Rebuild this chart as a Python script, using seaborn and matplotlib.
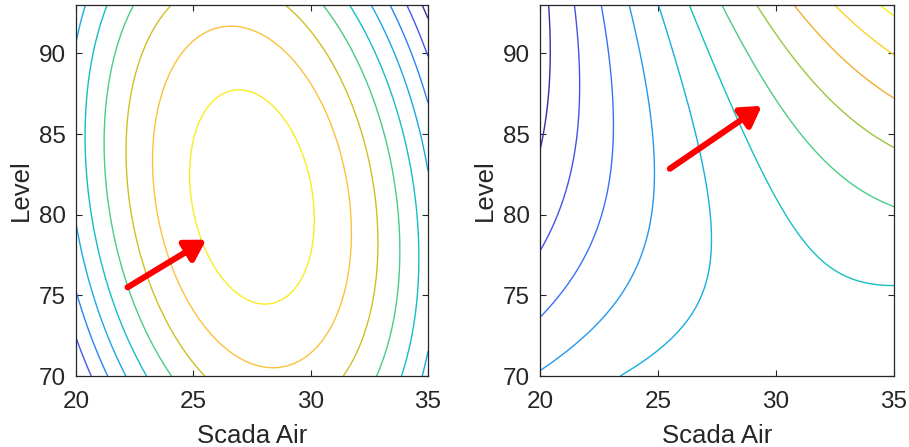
import numpy as np
import matplotlib
matplotlib.use("Agg")
import matplotlib.pyplot as plt
from matplotlib.colors import LinearSegmentedColormap, Normalize
import seaborn as sns

# ---------------- data ----------------
x_range = [20, 35]
y_range = [70, 93]
x_ticks = [20, 25, 30, 35]
y_ticks = [70, 75, 80, 85, 90]
x_label = "Scada Air"
y_label = "Level"

# left panel: quadratic response surface with a maximum (centred form)
left_center = [27.5, 81.1]            # (Scada Air, Level) of the optimum
left_peak = 9.65
left_quad = [0.0962, 0.0154, 0.0163]  # coefficients for dx^2, dy^2, dx*dy
left_levels = [1, 2, 3, 4, 5, 6, 7, 8, 9]

# right panel: quadratic response surface with a saddle
# [const, x, y, x^2, y^2, x*y]
right_coef = [92.37, -0.972, -2.0, -0.0156, 0.008, 0.0273]
right_levels = [1, 2, 3, 4, 5, 6, 7, 8, 9, 10, 11]

# red arrows (tail -> tip) in data coordinates
left_arrow_tail = [22.2, 75.5]
left_arrow_tip = [25.55, 78.45]
right_arrow_tail = [25.5, 82.85]
right_arrow_tip = [29.4, 86.75]

# parula-like colormap anchors (style): position, colour
cmap_pos = [0.00, 0.04, 0.13, 0.16, 0.22, 0.27, 0.32, 0.38, 0.41, 0.50,
            0.60, 0.69, 0.71, 0.78, 0.82, 0.88, 0.93, 1.00]
cmap_rgb = [
    (0.242, 0.150, 0.660), (0.240, 0.170, 0.640), (0.280, 0.320, 0.900),
    (0.270, 0.360, 0.940), (0.220, 0.440, 0.960), (0.160, 0.520, 0.950),
    (0.140, 0.600, 0.940), (0.100, 0.660, 0.900), (0.090, 0.690, 0.870),
    (0.080, 0.750, 0.750), (0.300, 0.800, 0.530), (0.600, 0.780, 0.250),
    (0.820, 0.750, 0.140), (0.950, 0.670, 0.190), (0.980, 0.760, 0.240),
    (0.980, 0.820, 0.190), (0.970, 0.930, 0.120), (0.977, 0.984, 0.081),
]
parula = LinearSegmentedColormap.from_list("parula", list(zip(cmap_pos, cmap_rgb)))

# ---------------- style ----------------
sns.set_theme(style="white")
plt.rcParams["font.family"] = ["Liberation Sans", "DejaVu Sans"]
ink = "#262626"
plt.rcParams.update({
    "xtick.direction": "in", "ytick.direction": "in",
    "xtick.top": True, "ytick.right": True,
    "xtick.bottom": True, "ytick.left": True,
    "xtick.major.size": 4.5, "ytick.major.size": 4.5,
    "xtick.major.width": 0.8, "ytick.major.width": 0.8,
    "xtick.color": ink, "ytick.color": ink,
    "axes.edgecolor": ink, "axes.linewidth": 0.9,
})

fig = plt.figure(figsize=(9.09, 4.47), dpi=100)
ax_l = fig.add_axes([0.0836, 0.1588, 0.3872, 0.8300])
ax_r = fig.add_axes([0.5941, 0.1588, 0.3894, 0.8300])

gx = np.linspace(x_range[0], x_range[1], 61)
gy = np.linspace(y_range[0], y_range[1], 61)
X, Y = np.meshgrid(gx, gy)

dx = X - left_center[0]
dy = Y - left_center[1]
Z_left = left_peak - (left_quad[0] * dx**2 + left_quad[1] * dy**2 + left_quad[2] * dx * dy)

c0, c1, c2, c3, c4, c5 = right_coef
Z_right = c0 + c1 * X + c2 * Y + c3 * X**2 + c4 * Y**2 + c5 * X * Y


def panel(ax, Z, levels, tail, tip):
    norm = Normalize(vmin=Z.min(), vmax=Z.max())
    ax.contour(X, Y, Z, levels=levels, cmap=parula, norm=norm, linewidths=1.0)
    ax.annotate("", xy=tip, xytext=tail,
                arrowprops=dict(arrowstyle="-|>,head_length=0.6,head_width=0.36",
                                color="red", lw=4.4, mutation_scale=20,
                                shrinkA=0, shrinkB=0))
    ax.set_xlim(x_range)
    ax.set_ylim(y_range)
    ax.set_xticks(x_ticks)
    ax.set_yticks(y_ticks)
    ax.tick_params(axis="x", labelsize=17.5, colors=ink, pad=11)
    ax.tick_params(axis="y", labelsize=17.5, colors=ink, pad=7.5)
    for lab in ax.get_xticklabels() + ax.get_yticklabels():
        lab.set_color(ink)
    ax.set_xlabel(x_label, fontsize=18.5, color=ink, labelpad=8)
    ax.set_ylabel(y_label, fontsize=18.5, color=ink, labelpad=4)
    for s in ax.spines.values():
        s.set_visible(True)
        s.set_color(ink)


panel(ax_l, Z_left, left_levels, left_arrow_tail, left_arrow_tip)
panel(ax_r, Z_right, right_levels, right_arrow_tail, right_arrow_tip)

fig.savefig("out.png", dpi=100, facecolor="white")
